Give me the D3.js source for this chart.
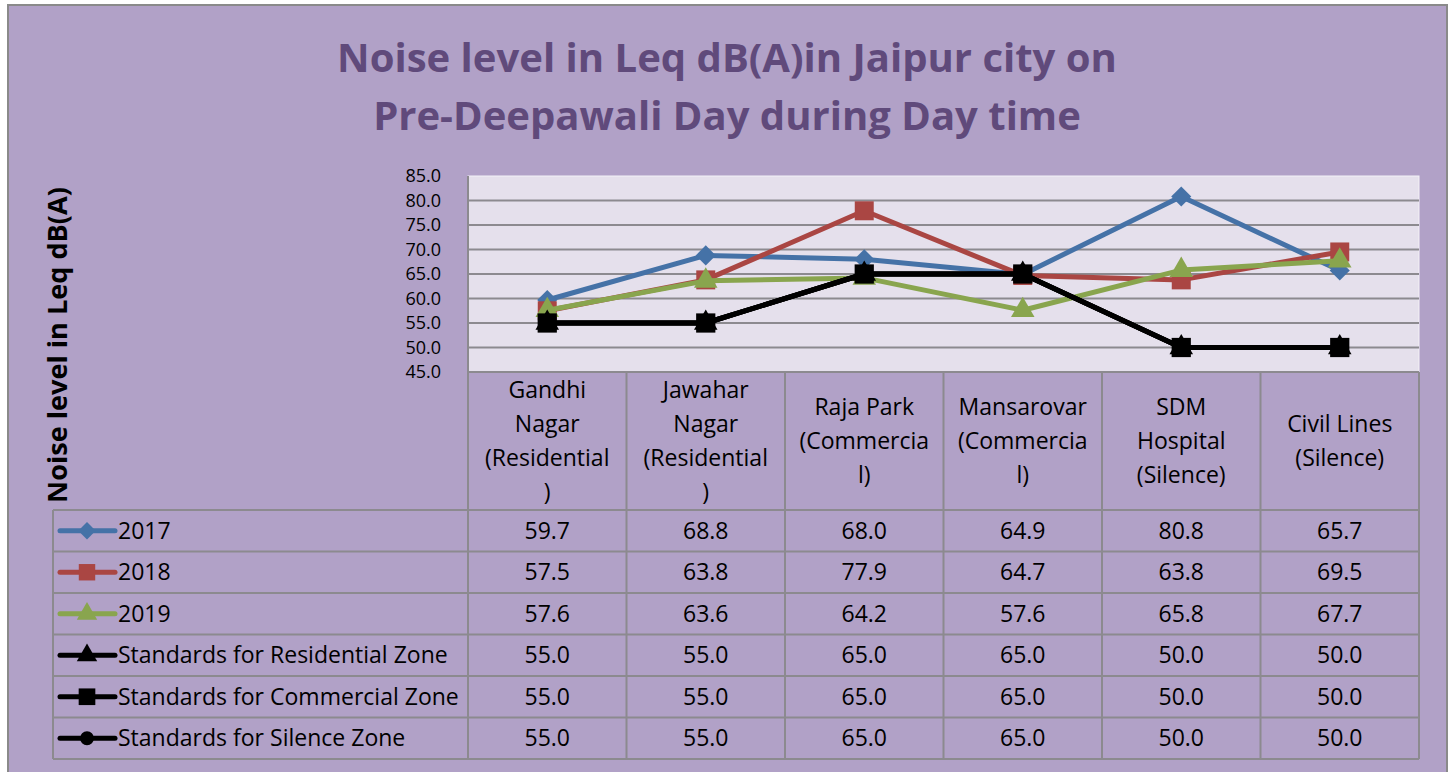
<!DOCTYPE html>
<html>
<head>
<meta charset="utf-8">
<script src="https://cdn.jsdelivr.net/npm/d3@7"></script>
<style>
body { margin: 0; background: #fff; }
svg text { font-family: "Open Sans", Lato, sans-serif; }
</style>
</head>
<body>
<svg id="chart" width="1454" height="772"></svg>
<script>
// data
var categories = ["Gandhi Nagar (Residential)", "Jawahar Nagar (Residential)", "Raja Park (Commercial)",
		  "Mansarovar (Commercial)", "SDM Hospital (Silence)", "Civil Lines (Silence)"];
var cat_lines = [["Gandhi", "Nagar", "(Residential", ")"],
		 ["Jawahar", "Nagar", "(Residential", ")"],
		 ["Raja Park", "(Commercia", "l)"],
		 ["Mansarovar", "(Commercia", "l)"],
		 ["SDM", "Hospital", "(Silence)"],
		 ["Civil Lines", "(Silence)"]];
var series_names = ["2017", "2018", "2019", "Standards for Residential Zone",
		    "Standards for Commercial Zone", "Standards for Silence Zone"];
var v2017 = [59.7, 68.8, 68.0, 64.9, 80.8, 65.7];
var v2018 = [57.5, 63.8, 77.9, 64.7, 63.8, 69.5];
var v2019 = [57.6, 63.6, 64.2, 57.6, 65.8, 67.7];
var std_res = [55.0, 55.0, 65.0, 65.0, 50.0, 50.0];
var std_com = [55.0, 55.0, 65.0, 65.0, 50.0, 50.0];
var std_sil = [55.0, 55.0, 65.0, 65.0, 50.0, 50.0];
var y_ticks = [45, 50, 55, 60, 65, 70, 75, 80, 85];

var diamond = {draw: function(ctx, size) {
    var r = Math.sqrt(size) / 2 * 1.2;
    ctx.moveTo(0, -r); ctx.lineTo(r, 0); ctx.lineTo(0, r); ctx.lineTo(-r, 0); ctx.closePath();
}};
var colors = ["#4572A7", "#AA4643", "#89A54E", "#000", "#000", "#000"];
var shapes = [diamond, d3.symbolSquare, d3.symbolTriangle, d3.symbolTriangle, d3.symbolSquare, d3.symbolCircle];
var sizes = [280, 360, 240, 240, 370, 200];
var all_series = [v2017, v2018, v2019, std_res, std_com, std_sil].map((v, i) => ({
    name: series_names[i], values: v, color: colors[i], shape: shapes[i], size: sizes[i]
}));

var svg = d3.select("#chart");
var grid_col = "#8c8a8f";

// font size that makes a test string as wide as in the picture
function fit_size(txt, weight, target) {
    var t = svg.append("text").style("font-size", "20px").style("font-weight", weight).text(txt);
    var w = t.node().getComputedTextLength();
    t.remove();
    return 20 * target / w;
}

// chart background + border
svg.append("rect").attr("x", 8).attr("y", 5).attr("width", 1439).attr("height", 780)
    .style("fill", "#B1A1C7").style("stroke", "#8a8a8a").style("stroke-width", 2);

var body_fs = fit_size("Standards for Residential Zone", "normal", 330) + "px";

var x = d3.scaleBand(categories, [468, 1419]);
var y = d3.scaleLinear([45, 85], [372, 176]);

// plot area
svg.append("rect").attr("x", 468).attr("y", 176).attr("width", 951).attr("height", 196)
    .style("fill", "#E5E0EC").style("stroke", "#f4f2f7").style("stroke-width", 1);

svg.append("g").selectAll("line").data(y_ticks.filter(d => d > 45 && d < 85)).join("line")
    .attr("x1", 468).attr("x2", 1419)
    .attr("y1", d => y(d)).attr("y2", d => y(d))
    .style("stroke", grid_col).style("stroke-width", 2);
svg.append("line").attr("x1", 468).attr("x2", 468).attr("y1", 176).attr("y2", 372)
    .style("stroke", grid_col).style("stroke-width", 2);

// y axis
var yaxis = svg.append("g").attr("transform", "translate(468,0)")
    .call(d3.axisLeft(y).tickValues(y_ticks).tickFormat(d3.format(".1f")).tickSize(0).tickPadding(27));
yaxis.select(".domain").remove();
yaxis.selectAll("text").style("font-size", "18px").style("fill", "#000")
    .style("font-family", "'Open Sans', sans-serif");

// table grid
var row_h = 41.5, table_top = 510;
var rows_y = d3.range(7).map(i => table_top + i * row_h);
svg.append("g").selectAll("line").data(rows_y).join("line")
    .attr("x1", 53).attr("x2", 1419).attr("y1", d => d).attr("y2", d => d)
    .style("stroke", grid_col).style("stroke-width", 2);
svg.append("line").attr("x1", 468).attr("x2", 1419).attr("y1", 372).attr("y2", 372)
    .style("stroke", grid_col).style("stroke-width", 2);
var col_edges = categories.map(c => x(c)).concat([x.range()[1]]);
svg.append("g").selectAll("line").data(col_edges).join("line")
    .attr("x1", d => d).attr("x2", d => d).attr("y1", 372).attr("y2", rows_y[6])
    .style("stroke", grid_col).style("stroke-width", 2);
svg.append("line").attr("x1", 53).attr("x2", 53).attr("y1", table_top).attr("y2", rows_y[6])
    .style("stroke", grid_col).style("stroke-width", 2);

// category labels
var lh = 34;
svg.append("g").selectAll("text").data(categories).join("text")
    .attr("text-anchor", "middle").style("font-size", body_fs).style("fill", "#000")
    .each(function(c, i) {
	var lines = cat_lines[i];
	var mid = 441 + 8 - (lines.length - 1) * lh / 2;
	d3.select(this).selectAll("tspan").data(lines).join("tspan")
	    .attr("x", x(c) + x.bandwidth() / 2)
	    .attr("y", (d, j) => mid + j * lh)
	    .text(d => d);
    });

// lines and markers
var line = d3.line().x((d, i) => x(categories[i]) + x.bandwidth() / 2).y(d => y(d));
var plot = svg.append("g");
all_series.forEach(s => {
    plot.append("path").datum(s.values).attr("d", line)
	.style("fill", "none").style("stroke", s.color).style("stroke-width", 5)
	.style("stroke-linejoin", "round");
    plot.append("g").selectAll("path").data(s.values).join("path")
	.attr("transform", (d, i) => "translate(" + (x(categories[i]) + x.bandwidth() / 2) + "," + y(d) + ")")
	.attr("d", d3.symbol(s.shape, s.size))
	.style("fill", s.color);
});

// table rows: legend keys + values
all_series.forEach((s, r) => {
    var cy = rows_y[r] + row_h / 2;
    svg.append("line").attr("x1", 60).attr("x2", 115).attr("y1", cy).attr("y2", cy)
	.style("stroke", s.color).style("stroke-width", 5).style("stroke-linecap", "round");
    svg.append("path").attr("transform", "translate(87," + cy + ")")
	.attr("d", d3.symbol(s.shape, s.size * 0.75)).style("fill", s.color);
    svg.append("text").attr("x", 118).attr("y", cy + 8).style("font-size", body_fs)
	.text(s.name);
    svg.append("g").selectAll("text").data(s.values).join("text")
	.attr("x", (d, i) => x(categories[i]) + x.bandwidth() / 2)
	.attr("y", cy + 8).attr("text-anchor", "middle").style("font-size", body_fs)
	.text(d => d3.format(".1f")(d));
});

// titles
var title_fs = fit_size("Noise level in Leq dB(A)in Jaipur city on", "bold", 780) + "px";
var title = svg.append("text").attr("text-anchor", "middle")
    .style("font-size", title_fs).style("font-weight", "bold").style("fill", "#604A7B");
title.append("tspan").attr("x", 727).attr("y", 72).text("Noise level in Leq dB(A)in Jaipur city on");
title.append("tspan").attr("x", 727).attr("y", 130).text("Pre-Deepawali Day during Day time");

svg.append("text").attr("transform", "translate(67,345) rotate(-90)")
    .attr("text-anchor", "middle")
    .style("font-size", fit_size("Noise level in Leq dB(A)", "bold", 316) + "px")
    .style("font-weight", "bold")
    .text("Noise level in Leq dB(A)");
</script>
</body>
</html>
